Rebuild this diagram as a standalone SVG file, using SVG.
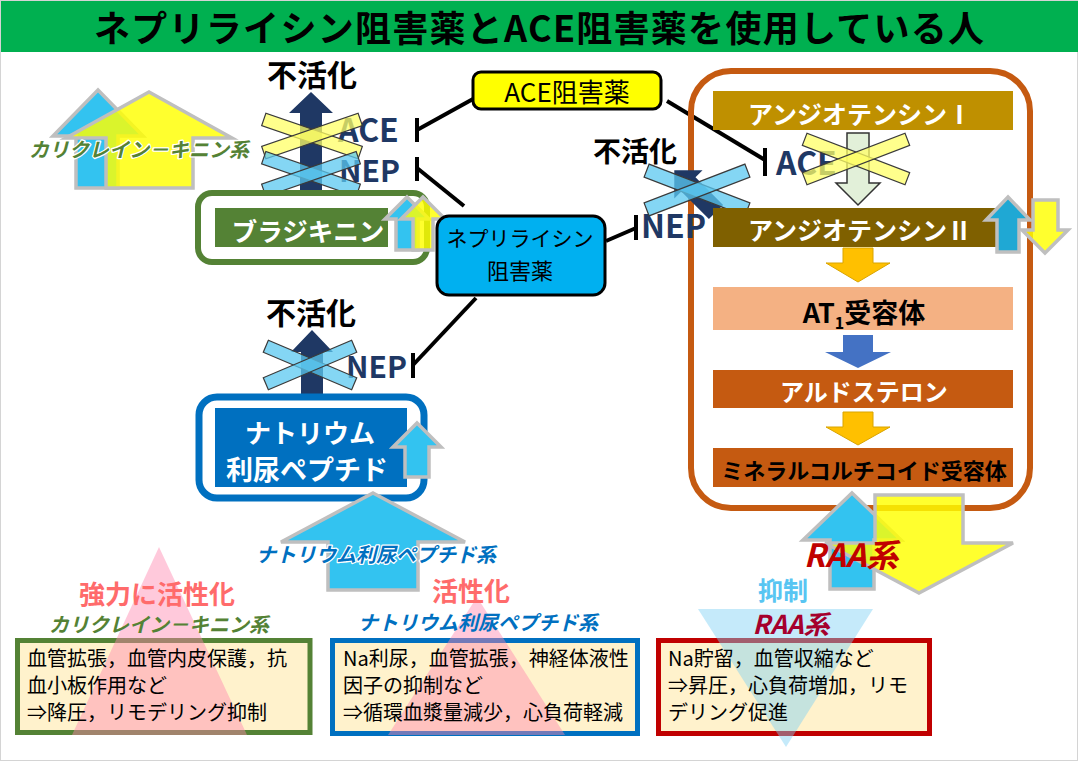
<svg xmlns="http://www.w3.org/2000/svg" width="1078" height="761" viewBox="0 0 1078 761">
<style>
text{font-family:"Noto Sans CJK JP","Noto Sans",sans-serif}
.b{font-weight:700}
.c{text-anchor:middle}
.navyt{fill:#1f3864;font-weight:700}
.wht{fill:#fff;font-weight:700}
.xy{fill:#ffff66;fill-opacity:.75;stroke:#3a3a3a;stroke-width:1.2}
.xb{fill:#5bc8f0;fill-opacity:.75;stroke:#3a3a3a;stroke-width:1.2}
.ln{stroke:#000;stroke-width:4;fill:none}
.ga{stroke:#bfbfbf;stroke-width:3.5;stroke-linejoin:miter}
.bl{fill:#33c3f0}
.ye{fill:#ffff00;fill-opacity:.82}
.body{font-size:20px;fill:#000}
.halo{paint-order:stroke;stroke:#fff;stroke-width:2.5px;stroke-linejoin:round}
</style>
<rect x="0.5" y="0.5" width="1077" height="760" fill="#fff" stroke="#d4d4d4"/>
<g id="title">
<rect x="1" y="1" width="1077" height="51" fill="#00b050"/>
<text x="539" y="42" class="c b" font-size="36" textLength="890" lengthAdjust="spacing" fill="#000">ネプリライシン阻害薬とACE阻害薬を使用している人</text>
</g>

<g id="kallikrein-arrows">
<polygon class="bl ga" points="98,90 143,136 118,136 118,188 76,188 76,136 53,136"/>
<polygon class="ye ga" points="149,92 232,138 193,138 193,188 106,188 106,138 66,138"/>
<text x="139" y="157" class="c b halo" font-size="20" font-style="italic" fill="#548235">カリクレイン－キニン系</text>
</g>

<g id="connectors">
<line class="ln" x1="417" y1="130" x2="473" y2="99"/>
<line class="ln" x1="417" y1="118" x2="417" y2="142"/>
<line class="ln" x1="417" y1="168" x2="464" y2="206"/>
<line class="ln" x1="417" y1="157" x2="417" y2="181"/>
<line class="ln" x1="667" y1="101" x2="765" y2="160"/>
<line class="ln" x1="765" y1="148" x2="765" y2="176"/>
<line class="ln" x1="606" y1="241" x2="636" y2="228"/>
<line class="ln" x1="636" y1="215" x2="636" y2="240"/>
<line class="ln" x1="413" y1="365" x2="476" y2="298"/>
<line class="ln" x1="413" y1="353" x2="413" y2="378"/>
</g>

<g id="raa-container">
<rect x="691" y="71" width="339" height="437" rx="40" fill="none" stroke="#c55a11" stroke-width="6"/>
</g>

<g id="ace-inactivation">
<text x="312" y="86" class="c b" font-size="30">不活化</text>
<polygon fill="#1f3864" points="311,92 333,113 322,113 322,205 300,205 300,113 289,113"/>
<text x="338" y="142" class="navyt" font-size="32">ACE</text>
<text x="339" y="182" class="navyt" font-size="30">NEP</text>
<g transform="translate(312,136)"><rect class="xy" x="-51" y="-6.5" width="102" height="13" transform="rotate(19)"/><rect class="xy" x="-51" y="-6.5" width="102" height="13" transform="rotate(-19)"/></g>
<g transform="translate(311,174)"><rect class="xb" x="-50" y="-6.5" width="100" height="13" transform="rotate(19)"/><rect class="xb" x="-50" y="-6.5" width="100" height="13" transform="rotate(-19)"/></g>
</g>

<g id="bradykinin">
<rect x="198" y="193" width="229" height="69" rx="14" fill="#fff" stroke="#548235" stroke-width="6"/>
<rect x="215" y="208" width="173" height="39" fill="#548235"/>
<text x="308" y="241" class="c wht" font-size="25.5">ブラジキニン</text>
<polygon class="bl ga" points="407,197 429,219 418,219 418,250 396,250 396,219 385,219"/>
<polygon class="ye ga" points="423,197 445,219 433,219 433,250 413,250 413,219 401,219"/>
</g>

<g id="ace-inhibitor">
<rect x="473" y="72" width="188" height="37" rx="8" fill="#ffff00" stroke="#000" stroke-width="3"/>
<text x="567" y="102" class="c" font-size="26">ACE阻害薬</text>
</g>

<g id="nep-inhibitor">
<rect x="437" y="216" width="168" height="79" rx="12" fill="#00b0f0" stroke="#000" stroke-width="3"/>
<text x="520" y="246" class="c" font-size="21">ネプリライシン</text>
<text x="520" y="279" class="c" font-size="22">阻害薬</text>
</g>

<g id="nep-middle">
<text x="635" y="162" class="c b" font-size="28">不活化</text>
<text x="641" y="238" class="navyt" font-size="32">NEP</text>
<g transform="translate(716,212) rotate(225)"><polygon fill="#1f3864" points="0,-10 39,-10 39,-20 59,0 39,20 39,10 0,10"/></g>
<g transform="translate(697,190)"><rect class="xb" x="-54" y="-7" width="108" height="14" transform="rotate(21)"/><rect class="xb" x="-54" y="-7" width="108" height="14" transform="rotate(-21)"/></g>
</g>

<g id="angiotensin1">
<rect x="713" y="91" width="300" height="39" fill="#bf9000"/>
<text x="860" y="124" class="c wht" font-size="25">アンジオテンシンⅠ</text>
</g>
<g id="ace-right">
<polygon fill="#e2f0d9" stroke="#333" stroke-width="1.5" points="847,133 869,133 869,183 880,183 858,205 836,183 847,183"/>
<text x="776" y="175" class="navyt" font-size="32">ACE</text>
<g transform="translate(856,159)"><rect class="xy" x="-55" y="-6.5" width="110" height="13" transform="rotate(21)"/><rect class="xy" x="-55" y="-6.5" width="110" height="13" transform="rotate(-21)"/></g>
</g>
<g id="angiotensin2">
<rect x="713" y="208" width="300" height="39" fill="#7f6000"/>
<text x="860" y="240" class="c wht" font-size="25">アンジオテンシンⅡ</text>
<polygon fill="#1fa8d4" class="ga" points="1008,197 1030,220 1019,220 1019,252 997,252 997,220 986,220"/>
<polygon class="ye ga" points="1033,200 1058,200 1058,230 1068,230 1045,253 1022,230 1033,230"/>
</g>
<polygon id="arrow-a" fill="#ffc000" stroke="#d9a400" stroke-width="1" points="843,248 873,248 873,263 890,263 858,282 826,263 843,263"/>
<g id="at1">
<rect x="713" y="287" width="300" height="43" fill="#f4b183"/>
<text x="864" y="323" class="c b" font-size="27" fill="#000">AT<tspan font-size="16" dy="6">1</tspan><tspan dy="-6">受容体</tspan></text>
</g>
<polygon id="arrow-b" fill="#4472c4" points="843,335 873,335 873,352 891,352 858,368 825,352 843,352"/>
<g id="aldosterone">
<rect x="713" y="370" width="300" height="38" fill="#c55a11"/>
<text x="864" y="401" class="c wht" font-size="24">アルドステロン</text>
</g>
<polygon id="arrow-c" fill="#ffc000" stroke="#d9a400" stroke-width="1" points="843,412 873,412 873,427 890,427 858,445 826,427 843,427"/>
<g id="mr">
<rect x="713" y="448" width="300" height="39" fill="#c55a11"/>
<text x="864" y="479" class="c b" font-size="22" fill="#000">ミネラルコルチコイド受容体</text>
</g>

<g id="natriuretic">
<text x="311" y="324" class="c b" font-size="30">不活化</text>
<polygon fill="#1f3864" points="312,330 333,352 323,352 323,402 301,402 301,352 291,352"/>
<text x="346" y="378" class="navyt" font-size="30">NEP</text>
<g transform="translate(310,365)"><rect class="xb" x="-48" y="-6.5" width="96" height="13" transform="rotate(23)"/><rect class="xb" x="-48" y="-6.5" width="96" height="13" transform="rotate(-23)"/></g>
<rect x="199" y="397" width="225" height="101" rx="18" fill="#fff" stroke="#0070c0" stroke-width="7"/>
<rect x="215" y="408" width="192" height="79" fill="#0070c0"/>
<text x="310" y="443" class="c wht" font-size="26">ナトリウム</text>
<text x="307" y="480" class="c wht" font-size="27">利尿ペプチド</text>
<polygon class="bl ga" points="417,423 441,447 429,447 429,477 405,477 405,447 393,447"/>
</g>

<g id="np-system-arrow">
<polygon class="bl ga" points="373,493 465,542 418,542 418,590 328,590 328,542 281,542"/>
<text x="376" y="562" class="c b halo" font-size="20" font-style="italic" fill="#0070c0">ナトリウム利尿ペプチド系</text>
</g>

<g id="raa-arrows">
<polygon class="bl ga" points="852,493 901,540 874,540 874,589 830,589 830,540 803,540"/>
<polygon class="ye ga" points="875,495 963,495 963,543 1013,543 919,593 825,543 875,543"/>
<text x="851" y="567" class="c b" font-size="32" font-style="italic" fill="#c00000">RAA系</text>
</g>

<g id="kk-summary">
<rect x="17.5" y="640.5" width="292.5" height="92" fill="#fff2cc" stroke="#548235" stroke-width="5"/>
<polygon fill="#ff88b0" fill-opacity=".45" points="159,547 247,735 72,735"/>
<text x="157" y="604" class="c b" font-size="26" fill="#ff6b6b">強力に活性化</text>
<text x="159" y="632" class="c b" font-size="20" font-style="italic" fill="#548235">カリクレイン－キニン系</text>
<text x="27" y="666" class="body">血管拡張，血管内皮保護，抗</text>
<text x="27" y="693" class="body">血小板作用など</text>
<text x="27" y="720" class="body">⇒降圧，リモデリング抑制</text>
</g>

<g id="np-summary">
<rect x="332.5" y="640.5" width="305" height="93" fill="#fff2cc" stroke="#0070c0" stroke-width="5"/>
<polygon fill="#ff88b0" fill-opacity=".45" points="477,597 565,735 388,735"/>
<text x="471" y="601" class="c b" font-size="26" fill="#ff6b6b">活性化</text>
<text x="478" y="630" class="c b" font-size="20" font-style="italic" fill="#0070c0">ナトリウム利尿ペプチド系</text>
<text x="343" y="666" class="body">Na利尿，血管拡張，神経体液性</text>
<text x="343" y="693" class="body">因子の抑制など</text>
<text x="343" y="720" class="body">⇒循環血漿量減少，心負荷軽減</text>
</g>

<g id="raa-summary">
<rect x="658.5" y="640.5" width="271" height="93" fill="#fff2cc" stroke="#c00000" stroke-width="5"/>
<polygon fill="#7fd0f5" fill-opacity=".45" points="698,609 873,609 786,747"/>
<text x="783" y="600" class="c b" font-size="25" fill="#58c5f2">抑制</text>
<text x="791" y="634" class="c b" font-size="26" font-style="italic" fill="#a5002d">RAA系</text>
<text x="668" y="666" class="body">Na貯留，血管収縮など</text>
<text x="668" y="693" class="body">⇒昇圧，心負荷増加，リモ</text>
<text x="668" y="720" class="body">デリング促進</text>
</g>
</svg>
